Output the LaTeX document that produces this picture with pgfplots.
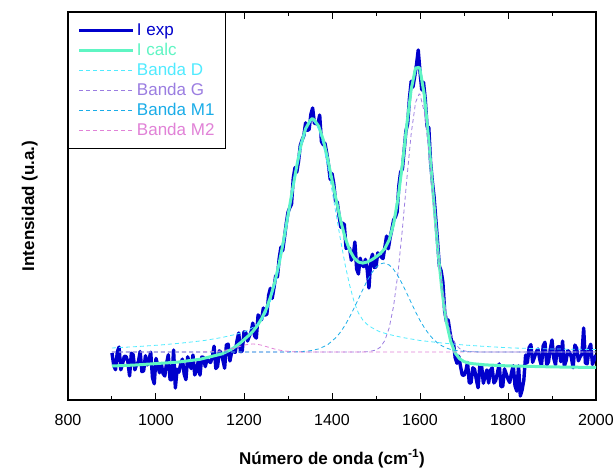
\documentclass[border=0pt]{standalone}
\usepackage{pgfplots}
\pgfplotsset{compat=1.18}
\usepackage{fontspec}
\setmainfont{Liberation Sans}
\definecolor{cexp}{RGB}{0,0,204}
\definecolor{ccalc}{RGB}{95,245,195}
\definecolor{cD}{RGB}{80,235,255}
\definecolor{cG}{RGB}{155,125,225}
\definecolor{cMa}{RGB}{26,173,232}
\definecolor{cMb}{RGB}{225,130,215}
\begin{document}
\begin{tikzpicture}
\begin{axis}[
  scale only axis, width=528pt, height=388pt,
  xmin=800, xmax=2000, ymin=0, ymax=388,
  xtick={800,1000,...,2000}, minor x tick num=1,
  ytick=\empty,
  tick align=inside, major tick length=7pt, minor tick length=4pt,
  every tick/.style={black, line width=1pt},
  axis line style={line width=1.2pt},
  /pgf/number format/assume math mode=true,
  /pgf/number format/1000 sep={},
  xticklabel style={font=\fontsize{16}{16}\selectfont, yshift=-11pt},
  xlabel={\bfseries Número de onda (cm\textsuperscript{-1})},
  xlabel style={font=\fontsize{17}{20}\selectfont, at={(axis description cs:0.5,-0.1186)}, anchor=north},
  ylabel={\bfseries Intensidad (u.a.)},
  ylabel style={font=\fontsize{17}{20}\selectfont, at={(axis description cs:-0.051,0.5)}, anchor=south, rotate=0},
  legend image code/.code={\draw[#1] (0pt,0pt) -- (54pt,0pt);},
  legend cell align=left,
  legend style={at={(0,1)}, anchor=north west, draw=black, line width=1.2pt,
    font=\fontsize{17}{20}\selectfont, inner xsep=9pt, inner ysep=8pt,
    nodes={inner xsep=2pt, inner ysep=2pt, text height=12.5pt, text depth=3.5pt}},
]
\addplot[cexp, line width=3.4pt, line join=round] coordinates {
(900,47) (904,34.4) (908,30.3) (912,47.9) (916,52.9) (920,30.2) (924,36.2) (928,43.8) (932,43.4) (936,38.4) (940,24.1) (944,46.8) (948,45.3) (952,30.2) (956,35.7) (960,38.2) (964,48.5) (968,28.3) (972,29.2) (976,44.3) (980,35.0) (984,40.0) (988,47.8) (992,22.3) (996,16.3) (1000,41.6) (1004,34.7) (1008,27.2) (1012,36.4) (1016,26.4) (1020,24.0) (1024,36.7) (1028,45.2) (1032,20.2) (1036,20.3) (1040,50) (1044,12) (1048,30.8) (1052,27.8) (1056,35.6) (1060,40.9) (1064,26.0) (1068,20.3) (1072,43.2) (1076,36.2) (1080,31.4) (1084,45.0) (1088,25.1) (1092,28.7) (1096,39.0) (1100,24.9) (1104,42.9) (1108,42.6) (1112,33.4) (1116,40.8) (1120,38.8) (1124,37.5) (1128,42.9) (1132,53.8) (1136,31.5) (1140,33.6) (1144,49.2) (1148,47.1) (1152,40.0) (1156,31.8) (1160,55.1) (1164,55.8) (1168,39.0) (1172,47.9) (1176,48.7) (1180,47.6) (1184,59.0) (1188,67.0) (1192,48.3) (1196,49.0) (1200,68.1) (1204,67.5) (1208,59.0) (1212,63.7) (1216,67.9) (1220,76.9) (1224,64.1) (1228,61.9) (1232,85.1) (1236,81.3) (1240,80.4) (1244,92.0) (1248,84.9) (1252,85.9) (1256,104.6) (1260,111.7) (1264,101.6) (1268,111.9) (1272,124.1) (1276,123.2) (1280,141.6) (1284,152.9) (1288,149.4) (1292,162.6) (1296,176.3) (1300,187.7) (1304,192.3) (1308,195.8) (1312,221.9) (1316,232.5) (1320,227.9) (1324,238.9) (1328,254.8) (1332,260.0) (1336,264.3) (1340,277.2) (1344,269.6) (1348,270.6) (1352,285.7) (1356,292) (1360,276.7) (1364,276.4) (1368,275.7) (1372,285) (1376,258.4) (1380,255.3) (1384,256.7) (1388,247.0) (1392,235.4) (1396,220.5) (1400,226.4) (1404,216.5) (1408,199.0) (1412,197.8) (1416,184.4) (1420,172.8) (1424,176.9) (1428,175.4) (1432,151.6) (1436,152.7) (1440,151.5) (1444,139.8) (1448,143.9) (1452,158) (1456,131.1) (1460,126.0) (1464,141.8) (1468,135.1) (1472,133.3) (1476,140.6) (1480,130.2) (1484,112) (1488,139.1) (1492,145.7) (1496,132.5) (1500,133.1) (1504,147.1) (1508,144.8) (1512,142.9) (1516,141.4) (1520,152.4) (1524,163.9) (1528,151.2) (1532,162.3) (1536,170.4) (1540,180) (1544,182.9) (1548,188.2) (1552,214.6) (1556,228) (1560,231.0) (1564,249.6) (1568,269.0) (1572,276.4) (1576,301.4) (1580,318.8) (1584,312.9) (1588,323.8) (1592,335.3) (1596,350) (1600,328.1) (1604,310.1) (1608,317.7) (1612,300.5) (1616,273.5) (1620,272.4) (1624,238.0) (1628,218.9) (1632,202.9) (1636,180.4) (1640,157.5) (1644,133.9) (1648,129.2) (1652,117.7) (1656,89.0) (1660,78.8) (1664,80.0) (1668,68.2) (1672,58.4) (1676,57.5) (1680,42.2) (1684,36.7) (1688,43.8) (1692,33.8) (1696,25.1) (1700,24.6) (1704,28.9) (1708,37.5) (1712,17.1) (1716,17.2) (1720,32.2) (1724,30.7) (1728,20.6) (1732,12.2) (1736,35.0) (1740,34.3) (1744,16.8) (1748,24.2) (1752,30) (1756,17.0) (1760,29.6) (1764,32.2) (1768,17.1) (1772,19.5) (1776,27.0) (1780,36.1) (1784,13.4) (1788,13.5) (1792,31.1) (1796,26.0) (1800,21.0) (1804,17.5) (1808,27.6) (1812,34.2) (1816,14.0) (1820,8.9) (1824,34.1) (1828,4) (1832,10) (1836,20) (1840,45) (1844,37.2) (1848,52.3) (1852,55.4) (1856,37.7) (1860,42.7) (1864,47.7) (1868,51.0) (1872,40.9) (1876,34.1) (1880,54.3) (1884,57.8) (1888,35.1) (1892,38.1) (1896,50.7) (1900,60) (1904,41.7) (1908,35.2) (1912,52.8) (1916,53.4) (1920,38.3) (1924,58.9) (1928,33.7) (1932,39.3) (1936,49.4) (1940,47.7) (1944,42.6) (1948,32.2) (1952,54.9) (1956,51.8) (1960,39.2) (1964,43.3) (1968,45.8) (1972,72) (1976,36.9) (1980,36.2) (1984,51.3) (1988,55.8) (1992,35.6) (1996,40.3) (2000,45)
};
\addlegendentry{\textcolor{cexp}{I exp}}
\addplot[ccalc, line width=3pt, line join=round] coordinates {
(900,34) (950,34.9) (1000,36.4) (1050,37.9) (1100,40.7) (1150,46.1) (1170,50.3) (1180,53.2) (1190,56.5) (1200,60.3) (1210,64.2) (1220,68.5) (1230,74.2) (1240,81.3) (1250,90.5) (1260,102.7) (1270,117.9) (1280,136.8) (1290,159.6) (1300,184.7) (1310,209.8) (1320,234.3) (1330,255.9) (1340,271.2) (1350,279.2) (1355,281.5) (1360,279.9) (1370,273.6) (1380,260.3) (1390,241.2) (1400,220.0) (1410,198.8) (1420,178.8) (1430,162.0) (1440,149.9) (1450,142.2) (1460,138.0) (1470,136.9) (1480,138.0) (1490,140.1) (1500,143.1) (1510,146.5) (1520,151.4) (1530,160.1) (1540,176.0) (1550,201.3) (1560,235.8) (1570,275.3) (1580,310.8) (1590,332.0) (1598,332.6) (1600,330.5) (1610,304.5) (1620,259.4) (1630,205.0) (1640,152.3) (1650,108.9) (1660,77.8) (1670,58.3) (1680,47.0) (1690,41.2) (1700,38.4) (1710,37.0) (1720,36.3) (1750,35.1) (1800,34.1) (1850,33.6) (1900,33.1) (1950,32.8) (2000,32.5)
};
\addlegendentry{\textcolor{ccalc}{I calc}}
\addplot[cD, line width=0.8pt, dash pattern=on 4pt off 3pt] coordinates {
(900,52) (960,53.5) (1010,55) (1060,57) (1110,59.5) (1150,62.5) (1180,65.5) (1200,68) (1210,70) (1220,72.5) (1230,75.5) (1240,80) (1250,87) (1260,98.5) (1270,115) (1280,135) (1290,158.5) (1300,184) (1310,209.5) (1320,234) (1330,255.5) (1340,270.5) (1350,278) (1355,280) (1360,278) (1370,270.5) (1380,255.5) (1390,234) (1400,209.5) (1410,184) (1420,158.5) (1430,135) (1440,115) (1450,98.5) (1460,87) (1470,80) (1480,75.5) (1490,72.5) (1500,70) (1510,68) (1530,65.5) (1560,62.5) (1600,59.5) (1650,57) (1700,55) (1750,53.5) (1810,52) (1900,51) (2000,50.5)
};
\addlegendentry{\textcolor{cD}{Banda D}}
\addplot[cG, line width=0.8pt, dash pattern=on 4pt off 3pt] coordinates {
(900,48) (1450,48) (1480,48.2) (1500,49.9) (1510,52.9) (1520,59.4) (1530,72.1) (1540,94) (1550,127.2) (1560,171) (1570,220.6) (1580,266.5) (1590,297.7) (1598,306) (1600,305.5) (1610,287.6) (1620,249.3) (1630,200.6) (1640,152.4) (1650,112.5) (1660,83.9) (1670,66.1) (1680,56.2) (1690,51.4) (1700,49.2) (1710,48.4) (1730,48) (2000,48)
};
\addlegendentry{\textcolor{cG}{Banda G}}
\addplot[cMa, line width=0.8pt, dash pattern=on 4pt off 3pt] coordinates {
(900,48) (1280,48) (1300,48.1) (1330,48.4) (1350,49.2) (1370,51.1) (1390,55.2) (1410,62.8) (1420,68.3) (1430,75) (1440,82.9) (1450,91.7) (1460,101) (1470,110.4) (1480,119.3) (1490,126.9) (1500,132.7) (1510,136.1) (1518,137) (1530,135) (1540,130.6) (1550,124) (1560,115.8) (1570,106.7) (1580,97.3) (1590,88.1) (1600,79.6) (1610,72.2) (1620,66) (1630,60.9) (1640,57) (1650,54.1) (1660,52) (1670,50.55) (1680,49.6) (1700,48.5) (1720,48.2) (1750,48) (2000,48)
};
\addlegendentry{\textcolor{cMa}{Banda M1}}
\addplot[cMb, line width=0.8pt, dash pattern=on 4pt off 3pt] coordinates {
(900,48) (1100,48) (1130,48.3) (1150,49.1) (1170,50.9) (1180,52.2) (1190,53.5) (1200,54.8) (1210,55.7) (1220,56) (1230,55.7) (1240,54.8) (1250,53.5) (1260,52.2) (1270,50.9) (1290,49.1) (1310,48.3) (1340,48) (2000,48)
};
\addlegendentry{\textcolor{cMb}{Banda M2}}
\end{axis}
\pgfresetboundingbox
\useasboundingbox (current axis.south west) ++(-68pt,-70pt) rectangle ++(616pt,470pt);
\end{tikzpicture}
\end{document}
